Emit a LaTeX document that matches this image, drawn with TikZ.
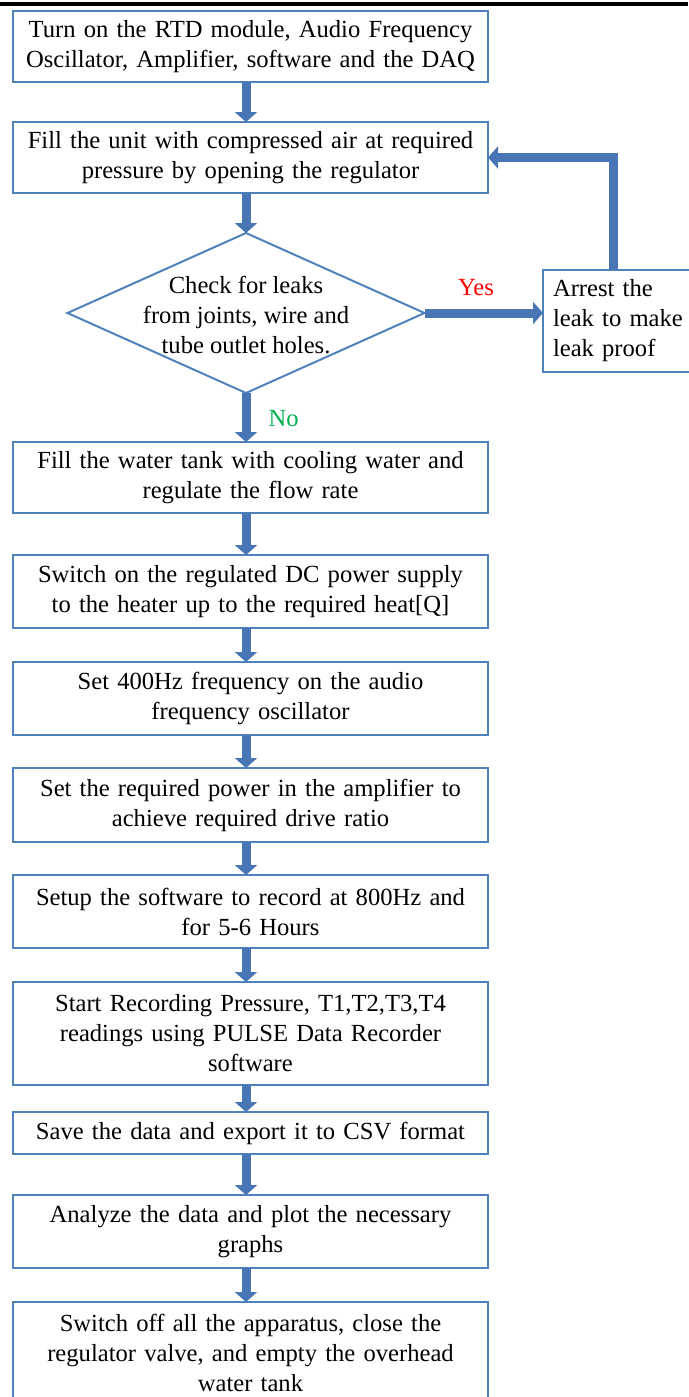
\documentclass[tikz,border=0pt]{standalone}
\usepackage{fontspec}
\setmainfont{Liberation Serif}
\usetikzlibrary{arrows.meta, shapes.geometric, positioning}
\definecolor{boxblue}{RGB}{79,129,189}
\definecolor{flowblue}{RGB}{72,118,180}
\definecolor{yesred}{RGB}{255,0,0}
\definecolor{nogreen}{RGB}{0,176,80}

\begin{document}
\begin{tikzpicture}[x=1pt, y=1pt, node distance=34pt,
  every node/.style={font=\fontsize{24.6pt}{30pt}\selectfont},
  process/.style={draw=boxblue, line width=2pt, text width=475pt, inner xsep=0pt, inner ysep=0pt, outer sep=0pt, align=center, minimum height=73pt},
  decision/.style={diamond, draw=boxblue, line width=2pt, minimum width=357pt, minimum height=160pt, inner sep=0pt, outer sep=0pt},
  flow/.style={line width=9pt, color=flowblue, -{Triangle[width=22pt,length=10pt]}},
  tag/.style={inner sep=2pt}]
  \useasboundingbox (0,0) rectangle (688,-1397);
  \fill (0,-2) rectangle (688,-6.5);

  \node[process, minimum height=71pt] (power) at (250.5,-46.5) {Turn on the RTD module, Audio Frequency\\Oscillator, Amplifier, software and the DAQ};
  \node[process, minimum height=71pt, below=40pt of power] (fill) {Fill the unit with compressed air at required\\pressure by opening the regulator};
  \node[decision, below=40pt of fill, xshift=-4.5pt,
    label={[align=center, yshift=-2pt]center:Check for leaks\\from joints, wire and\\tube outlet holes.}] (leak) {};
  \node[process, minimum height=102pt, text width=140pt, inner xsep=10pt, align=left, right=118.5pt of leak, yshift=-8pt] (arrest) {Arrest the\\leak to make\\leak proof};
  \node[process, minimum height=71pt, below=49pt of leak, xshift=4.5pt] (water) {Fill the water tank with cooling water and\\regulate the flow rate};
  \node[process, below=42pt of water] (heater) {Switch on the regulated DC power supply\\to the heater up to the required heat[Q]};
  \node[process, below=of heater] (osc) {Set 400Hz frequency on the audio\\frequency oscillator};
  \node[process, minimum height=74pt, below=33pt of osc] (amp) {Set the required power in the amplifier to\\achieve required drive ratio};
  \node[process, below=33pt of amp] (setup) {Setup the software to record at 800Hz and\\for 5-6 Hours};
  \node[process, minimum height=103pt, below=of setup] (record) {Start Recording Pressure, T1,T2,T3,T4\\readings using PULSE Data Recorder\\software};
  \node[process, minimum height=42pt, below=27pt of record] (save) {Save the data and export it to CSV format};
  \node[process, below=41pt of save] (plot) {Analyze the data and plot the necessary\\graphs};
  \node[process, minimum height=102pt, below=of plot] (off) {Switch off all the apparatus, close the\\regulator valve, and empty the overhead\\water tank};

  \path[flow] ([xshift=-4.5pt]power.south) edge ([xshift=-4.5pt]fill.north)
    ([xshift=-4.5pt]fill.south) edge (leak.north)
    (leak.south) edge node[tag, right=16pt, pos=0.53, text=nogreen] {No} ([xshift=-4.5pt]water.north)
    (leak.east) edge node[tag, above=11pt, pos=0.435, text=yesred] {Yes} (leak.east -| arrest.west)
    ([xshift=-4.5pt]water.south) edge ([xshift=-4.5pt]heater.north)
    ([xshift=-4.5pt]heater.south) edge ([xshift=-4.5pt]osc.north)
    ([xshift=-4.5pt]osc.south) edge ([xshift=-4.5pt]amp.north)
    ([xshift=-4.5pt]amp.south) edge ([xshift=-4.5pt]setup.north)
    ([xshift=-4.5pt]setup.south) edge ([xshift=-4.5pt]record.north)
    ([xshift=-4.5pt]record.south) edge ([xshift=-4.5pt]save.north)
    ([xshift=-4.5pt]save.south) edge ([xshift=-4.5pt]plot.north)
    ([xshift=-4.5pt]plot.south) edge ([xshift=-4.5pt]off.north);
  \draw[flow] ([xshift=-10pt]arrest.north) |- (fill.east);
\end{tikzpicture}
\end{document}
